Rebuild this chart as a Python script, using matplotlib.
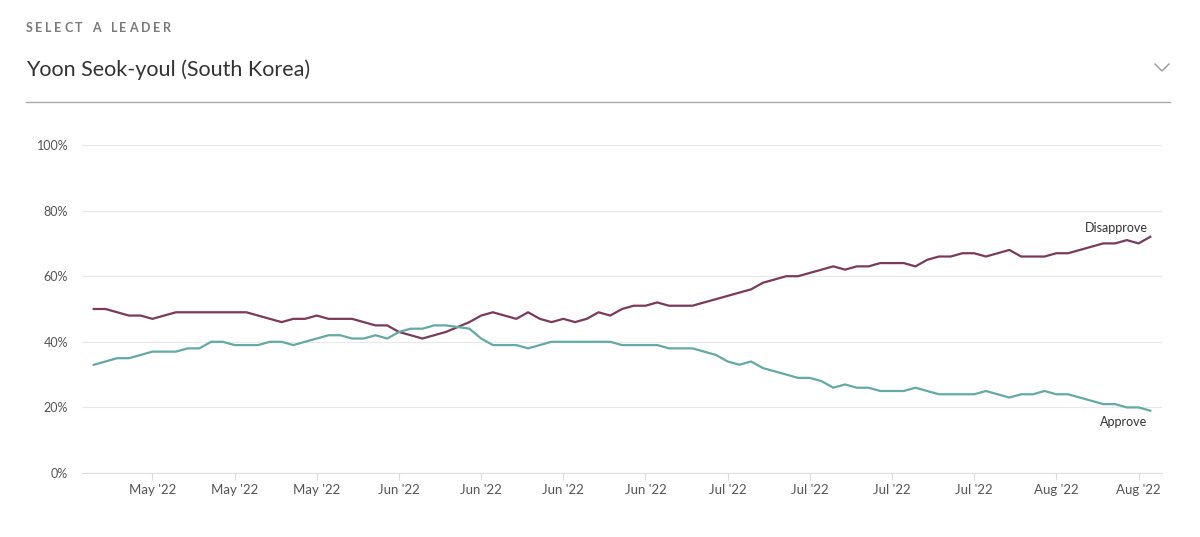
import matplotlib
matplotlib.use("Agg")
from matplotlib import pyplot as plt
import matplotlib.dates as mdates
from matplotlib.lines import Line2D
import pandas as pd

# daily averages, May 11 - Aug 9 2022
start_date = "2022-05-11"
disapprove = [50, 50, 49, 48, 48, 47, 48, 49, 49, 49, 49, 49, 49, 49, 48, 47, 46, 47, 47, 48,
              47, 47, 47, 46, 45, 45, 43, 42, 41, 42, 43, 44.5, 46, 48, 49, 48, 47, 49, 47, 46,
              47, 46, 47, 49, 48, 50, 51, 51, 52, 51, 51, 51, 52, 53, 54, 55, 56, 58, 59, 60,
              60, 61, 62, 63, 62, 63, 63, 64, 64, 64, 63, 65, 66, 66, 67, 67, 66, 67, 68, 66,
              66, 66, 67, 67, 68, 69, 70, 70, 71, 70, 72]
approve = [33, 34, 35, 35, 36, 37, 37, 37, 38, 38, 40, 40, 39, 39, 39, 40, 40, 39, 40, 41,
           42, 42, 41, 41, 42, 41, 43, 44, 44, 45, 45, 44.5, 44, 41, 39, 39, 39, 38, 39, 40,
           40, 40, 40, 40, 40, 39, 39, 39, 39, 38, 38, 38, 37, 36, 34, 33, 34, 32, 31, 30,
           29, 29, 28, 26, 27, 26, 26, 25, 25, 25, 26, 25, 24, 24, 24, 24, 25, 24, 23, 24,
           24, 25, 24, 24, 23, 22, 21, 21, 20, 20, 19]
y_ticks = [0, 20, 40, 60, 80, 100]

dates = pd.date_range(start_date, periods=len(approve), freq="D")

plt.rcParams['font.family'] = ['Lato', 'DejaVu Sans']

W, H = 1200, 537
fig = plt.figure(figsize=(W / 100, H / 100), dpi=100)
fig.patch.set_facecolor("white")
renderer = fig.canvas.get_renderer()

# header - letter spaced label, one glyph at a time
x = 26.0
for ch in "SELECT A LEADER":
    t = fig.text(x / W, 1 - 28 / H, ch, fontsize=9, fontweight="bold",
                 color="#7a7a7a", va="center", ha="left")
    x += t.get_window_extent(renderer).width + 2.6
    if ch == " ":
        x += 1.5
fig.text(26 / W, 1 - 70 / H, "Yoon Seok-youl (South Korea)", fontsize=15.5,
         color="#333333", va="center", ha="left")
fig.add_artist(Line2D([26 / W, 1170 / W], [1 - 102 / H, 1 - 102 / H],
                      transform=fig.transFigure, color="#a8a8a8", lw=1))
fig.add_artist(Line2D([1155 / W, 1162 / W, 1169 / W], [1 - 64 / H, 1 - 71 / H, 1 - 64 / H],
                      transform=fig.transFigure, color="#9a9a9a", lw=1))

ax = fig.add_axes([82 / W, 64 / H, 1080 / W, 328 / H])
c_dis = "#7b3a5c"
c_app = "#62aaa6"
ax.plot(dates, disapprove, color=c_dis, lw=1.6, solid_joinstyle="round")
ax.plot(dates, approve, color=c_app, lw=1.6, solid_joinstyle="round")

ax.annotate("Disapprove", (dates[-1], disapprove[-1]), xytext=(-2, 6.5), textcoords="offset points",
            ha="right", va="center", fontsize=9, color="#333333")
ax.annotate("Approve", (dates[-1], approve[-1]), xytext=(-2, -8), textcoords="offset points",
            ha="right", va="center", fontsize=9, color="#333333")

ax.set_ylim(0, 100)
ax.set_yticks(y_ticks)
ax.set_yticklabels([f"{v}%" for v in y_ticks])
ax.set_xlim(pd.Timestamp("2022-05-10"), pd.Timestamp("2022-08-10"))
ax.xaxis.set_major_locator(mdates.WeekdayLocator(byweekday=mdates.MO))
ax.xaxis.set_major_formatter(mdates.DateFormatter("%b '%y"))

ax.grid(axis="y", color="#e8e8e8", lw=0.8)
ax.set_axisbelow(True)
for s in ["top", "right", "left"]:
    ax.spines[s].set_visible(False)
ax.spines["bottom"].set_color("#dddddd")
ax.tick_params(axis="y", length=0, pad=10, labelsize=9, labelcolor="#555555")
ax.tick_params(axis="x", length=5, width=0.8, color="#dddddd", pad=3,
               labelsize=9.5, labelcolor="#555555")

fig.savefig("out.png", dpi=100)
plt.close(fig)
